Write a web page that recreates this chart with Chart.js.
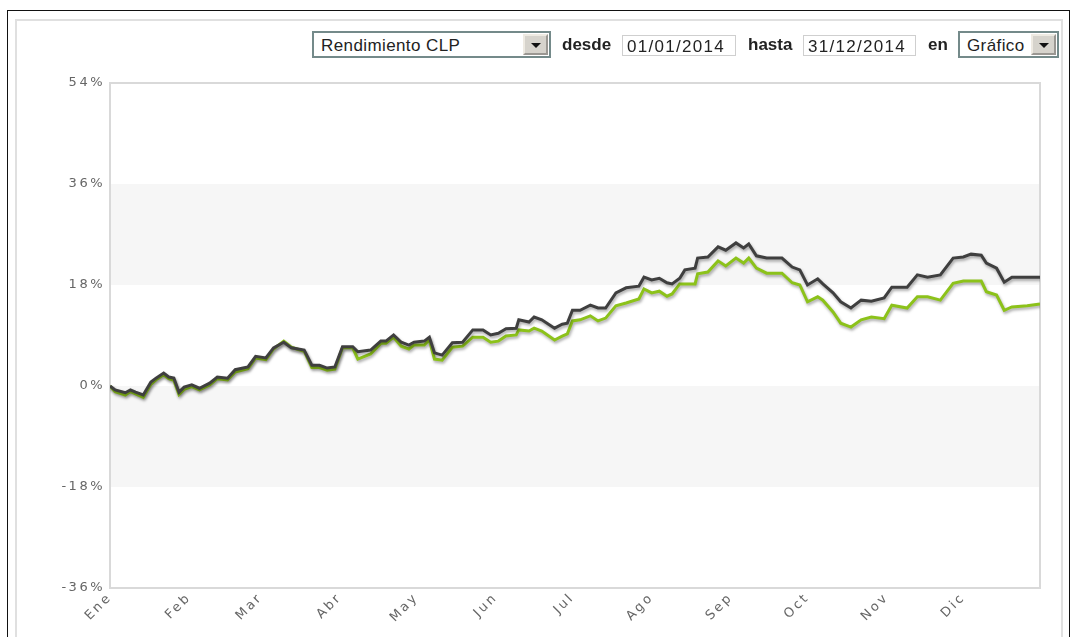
<!DOCTYPE html>
<html lang="es">
<head>
    <meta charset="UTF-8">
    <title>Rendimiento CLP 2014</title>
    <script src="https://cdn.jsdelivr.net/npm/chart.js"></script>
    <style>
        * {
            margin: 0;
            padding: 0;
            box-sizing: border-box;
        }

        body {
            width: 1071px;
            height: 637px;
            background: #fff;
            overflow: hidden;
            position: relative;
            font-family: 'Liberation Sans', Arial, sans-serif;
        }

        .outer-frame {
            position: absolute;
            left: 7px;
            top: 10px;
            width: 1063px;
            height: 640px;
            border: 1.5px solid #111;
        }

        .inner-frame {
            position: absolute;
            left: 15px;
            top: 19px;
            width: 1048px;
            height: 640px;
            border: 2px solid #e0e0e0;
        }

        .chart-box {
            position: absolute;
            left: 0;
            top: 0;
            width: 1071px;
            height: 637px;
        }

        .ctrl {
            position: absolute;
            font-size: 17px;
            color: #222;
            z-index: 2;
        }

        .label {
            font-weight: bold;
            top: 35px;
        }

        .select {
            top: 31px;
            height: 27px;
            border: 2px solid #748a8a;
            background: #fff;
            padding: 3px 0 0 7px;
            letter-spacing: 0.4px;
        }

        .select .btn {
            position: absolute;
            right: 1px;
            top: 1px;
            width: 25px;
            height: 21px;
            background: #d6d3cc;
            border: 2px outset #eeeae2;
        }

        .select .btn::after {
            content: '';
            position: absolute;
            left: 6px;
            top: 7px;
            border-left: 5px solid transparent;
            border-right: 5px solid transparent;
            border-top: 5px solid #111;
        }

        .input {
            top: 35px;
            height: 21px;
            border: 1px solid #cfcfcf;
            background: #fff;
            padding: 1px 0 0 4px;
            letter-spacing: 1.3px;
        }
    </style>
</head>
<body>
    <div class="outer-frame"></div>
    <div class="inner-frame"></div>

    <div class="ctrl select" style="left: 312px; width: 239px;">Rendimiento CLP<div class="btn"></div></div>
    <div class="ctrl label" style="left: 562px;">desde</div>
    <div class="ctrl input" style="left: 622px; width: 114px;">01/01/2014</div>
    <div class="ctrl label" style="left: 748px;">hasta</div>
    <div class="ctrl input" style="left: 803px; width: 113px;">31/12/2014</div>
    <div class="ctrl label" style="left: 928px;">en</div>
    <div class="ctrl select" style="left: 958px; width: 101px;">Gráfico<div class="btn"></div></div>

    <div class="chart-box">
        <canvas id="rendChart"></canvas>
    </div>

    <script>
        // ---- datos (dia del año, rendimiento %) ----
        const meses = ['Ene', 'Feb', 'Mar', 'Abr', 'May', 'Jun', 'Jul', 'Ago', 'Sep', 'Oct', 'Nov', 'Dic'];
        const inicioMes = [0, 31, 59, 90, 120, 151, 181, 212, 243, 273, 304, 334];
        const ticksY = [-36, -18, 0, 18, 36, 54];

        const dias = [
            0, 2, 6, 8, 10, 13, 16, 18, 21, 23,
            25, 27, 29, 32, 35, 39, 42, 46, 49, 54,
            57, 61, 64, 68, 71, 76, 79, 82, 85, 88,
            91, 95, 97, 102, 106, 108, 111, 114, 117, 119,
            123, 125, 127, 130, 134, 138, 142, 146, 149, 152,
            155, 159, 160, 164, 166, 169, 174, 177, 179, 181,
            184, 188, 191, 194, 198, 202, 207, 209, 212, 215,
            218, 220, 223, 225, 229, 230, 234, 238, 241, 245,
            248, 250, 253, 257, 263, 267, 270, 273, 277, 279,
            283, 286, 290, 294, 298, 303, 306, 312, 316, 320,
            325, 330, 334, 337, 341, 343, 347, 350, 353, 359,
            364
        ];

        // linea gris oscura
        const serieOscura = [
            0.0, -0.7, -1.2, -0.7, -1.1, -1.6, 0.7, 1.4, 2.3, 1.6,
            1.4, -1.1, -0.2, 0.2, -0.4, 0.5, 1.6, 1.4, 2.9, 3.4,
            5.3, 5.0, 6.8, 7.8, 6.8, 6.4, 3.7, 3.7, 3.2, 3.4,
            7.0, 7.0, 6.1, 6.4, 8.0, 8.0, 9.1, 7.8, 7.3, 7.8,
            8.0, 8.7, 5.9, 5.5, 7.7, 7.8, 10.0, 10.0, 9.1, 9.4,
            10.2, 10.3, 11.8, 11.4, 12.3, 11.8, 10.3, 11.0, 11.2, 13.5,
            13.5, 14.4, 13.9, 13.9, 16.6, 17.5, 17.8, 19.4, 18.9, 19.2,
            18.4, 18.2, 19.2, 20.7, 21.0, 22.8, 23.0, 24.8, 24.2, 25.5,
            24.6, 25.3, 23.2, 22.8, 22.8, 21.2, 20.7, 18.0, 19.1, 18.2,
            16.6, 15.0, 13.9, 15.3, 15.1, 15.7, 17.6, 17.6, 19.8, 19.4,
            19.8, 22.8, 23.0, 23.5, 23.3, 21.9, 21.0, 18.5, 19.4, 19.4,
            19.4
        ];

        // linea verde
        const serieVerde = [
            0.0, -1.0, -1.6, -1.0, -1.4, -2.0, 0.3, 1.1, 2.0, 1.3,
            1.0, -1.5, -0.6, -0.1, -0.7, 0.2, 1.3, 1.1, 2.5, 3.1,
            5.0, 4.7, 6.6, 8.0, 6.9, 6.2, 3.3, 3.3, 2.8, 3.0,
            6.8, 6.8, 4.8, 5.7, 7.6, 7.6, 8.7, 7.1, 6.6, 7.3,
            7.3, 8.2, 4.8, 4.6, 6.9, 7.1, 8.7, 8.7, 7.8, 8.0,
            8.9, 9.1, 10.0, 9.8, 10.3, 9.8, 8.2, 8.9, 9.3, 11.6,
            11.8, 12.5, 11.6, 12.1, 14.3, 14.8, 15.5, 17.3, 16.6, 16.9,
            16.0, 16.4, 18.2, 18.2, 18.2, 20.0, 20.3, 22.3, 21.4, 22.8,
            21.9, 22.8, 21.0, 20.1, 20.1, 18.4, 18.0, 15.0, 15.9, 15.3,
            13.2, 11.2, 10.5, 11.8, 12.3, 12.0, 14.4, 13.9, 15.9, 15.9,
            15.3, 18.3, 18.7, 18.7, 18.7, 16.8, 16.2, 13.5, 14.1, 14.3,
            14.6
        ];

        const toPoints = vals => dias.map((d, i) => ({ x: d, y: vals[i] }));

        const tickFont = { family: "'DejaVu Sans', sans-serif", size: 13 };
        const espaciado = '2.5px';

        // franjas grises de fondo + borde del area de grafico
        const bandsPlugin = {
            id: 'bands',
            beforeLayout(chart) {
                chart.ctx.letterSpacing = espaciado;
            },
            beforeDraw(chart) {
                const { ctx, chartArea: a, scales: { y } } = chart;
                ctx.save();
                ctx.fillStyle = '#f6f6f6';
                [[18, 36], [-18, 0]].forEach(([lo, hi]) => {
                    const top = y.getPixelForValue(hi);
                    ctx.fillRect(a.left, top, a.right - a.left, y.getPixelForValue(lo) - top);
                });
                ctx.strokeStyle = '#d9d9d9';
                ctx.lineWidth = 2;
                ctx.strokeRect(a.left, a.top, a.right - a.left, a.bottom - a.top);
                ctx.restore();
                ctx.letterSpacing = espaciado;
            }
        };

        // sombra suave bajo las lineas
        const shadowPlugin = {
            id: 'lineShadow',
            beforeDatasetDraw(chart) {
                const ctx = chart.ctx;
                ctx.save();
                ctx.shadowColor = 'rgba(0,0,0,0.35)';
                ctx.shadowBlur = 3;
                ctx.shadowOffsetX = 1;
                ctx.shadowOffsetY = 2;
            },
            afterDatasetDraw(chart) {
                chart.ctx.restore();
            }
        };

        new Chart(document.getElementById('rendChart'), {
            type: 'line',
            data: {
                datasets: [
                    {
                        label: 'Oscura',
                        data: toPoints(serieOscura),
                        borderColor: '#3f3f3f',
                        borderWidth: 3,
                        pointRadius: 0,
                        tension: 0,
                        order: 0
                    },
                    {
                        label: 'Verde',
                        data: toPoints(serieVerde),
                        borderColor: '#8cc21a',
                        borderWidth: 3,
                        pointRadius: 0,
                        tension: 0,
                        order: 1
                    }
                ]
            },
            options: {
                responsive: true,
                maintainAspectRatio: false,
                animation: false,
                layout: { padding: { top: 83, right: 31, left: 0, bottom: 0 } },
                plugins: {
                    legend: { display: false },
                    tooltip: { enabled: false }
                },
                scales: {
                    x: {
                        type: 'linear',
                        min: 0,
                        max: 364,
                        grid: { display: false, drawTicks: false },
                        border: { display: false },
                        afterBuildTicks: scale => {
                            scale.ticks = inicioMes.map(v => ({ value: v }));
                        },
                        afterFit: scale => { scale.height = 49; },
                        ticks: {
                            autoSkip: false,
                            minRotation: 45,
                            maxRotation: 45,
                            padding: 2,
                            color: '#666',
                            font: tickFont,
                            callback: v => meses[inicioMes.indexOf(v)]
                        }
                    },
                    y: {
                        min: -36,
                        max: 54,
                        grid: { display: false, drawTicks: false },
                        border: { display: false },
                        afterBuildTicks: scale => {
                            scale.ticks = ticksY.map(v => ({ value: v }));
                        },
                        afterFit: scale => { scale.width = 110; },
                        ticks: {
                            padding: 5,
                            color: '#666',
                            font: tickFont,
                            callback: v => v + '%'
                        }
                    }
                }
            },
            plugins: [bandsPlugin, shadowPlugin]
        });
    </script>
</body>
</html>
